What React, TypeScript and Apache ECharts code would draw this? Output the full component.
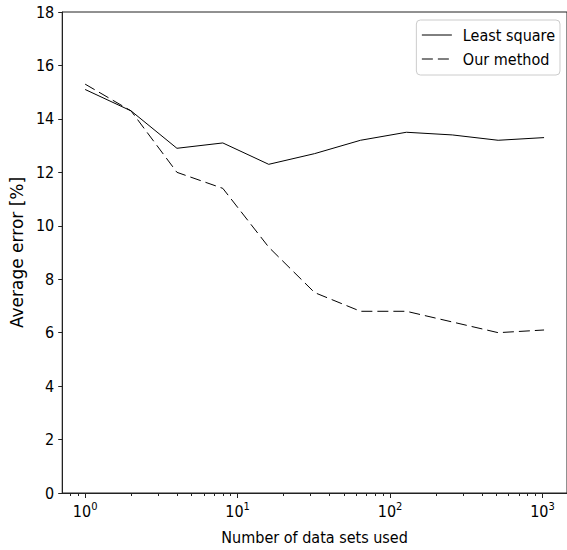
import React, { useEffect, useRef } from "react";
import * as echarts from "echarts";

const xValues = [1, 2, 4, 8, 16, 32, 64, 128, 256, 512, 1024];
const leastSquare = [15.1, 14.3, 12.9, 13.1, 12.3, 12.7, 13.2, 13.5, 13.4, 13.2, 13.3];
const ourMethod = [15.3, 14.3, 12.0, 11.4, 9.2, 7.5, 6.8, 6.8, 6.4, 6.0, 6.1];
const majorTicks = [1, 10, 100, 1000];
const minorTicks = [0.8, 0.9, 2, 3, 4, 5, 6, 7, 8, 9, 20, 30, 40, 50, 60, 70, 80, 90, 200, 300, 400, 500, 600, 700, 800, 900];

const COND = "'DejaVu Sans Condensed', 'DejaVu Sans', sans-serif";

export default function App() {
  const ref = useRef<HTMLDivElement>(null);
  useEffect(() => {
    if (!ref.current) return;
    const chart = echarts.init(ref.current, null, { renderer: "svg" });
    const xMin = Math.pow(10, -0.1505);
    const xMax = Math.pow(10, 3.1608);
    chart.setOption({
      animation: false,
      backgroundColor: "#fff",
      grid: {
        left: 61,
        top: 12,
        right: -1,
        bottom: 57,
        show: true,
        borderColor: "#222",
        borderWidth: 1,
      },
      legend: {
        orient: "vertical",
        right: 7,
        top: 20,
        padding: [7, 5, 8, 5],
        itemGap: 8,
        itemWidth: 30,
        itemHeight: 18,
        backgroundColor: "#fff",
        borderColor: "#ccc",
        borderWidth: 1,
        borderRadius: 4,
        itemStyle: { opacity: 0 },
        lineStyle: { width: 1 },
        textStyle: { fontFamily: COND, fontSize: 16, color: "#000", padding: [0, 0, 0, 6] },
        data: ["Least square", "Our method"],
      },
      xAxis: [
        {
          type: "log",
          logBase: 10,
          min: xMin,
          max: xMax,
          name: "Number of data sets used",
          nameLocation: "middle",
          nameGap: 36,
          nameTextStyle: { fontFamily: COND, fontSize: 16, color: "#000" },
          axisLine: { show: true, lineStyle: { color: "#222", width: 1 } },
          axisTick: { show: true, length: 5, customValues: majorTicks, lineStyle: { color: "#222" } },
          axisLabel: {
            customValues: majorTicks,
            margin: 8,
            formatter: (v: number) => `{b|10}{s|${Math.round(Math.log10(v))}}`,
            rich: {
              b: { fontFamily: COND, fontSize: 16, color: "#000" },
              s: { fontFamily: COND, fontSize: 11, color: "#000", padding: [0, 0, 10, 0] },
            },
          },
          splitLine: { show: false },
        },
        {
          type: "log",
          logBase: 10,
          min: xMin,
          max: xMax,
          position: "bottom",
          axisLine: { show: false },
          axisTick: { show: true, length: 3, customValues: minorTicks, lineStyle: { color: "#222" } },
          axisLabel: { show: false },
          splitLine: { show: false },
        },
      ],
      yAxis: {
        type: "value",
        min: 0,
        max: 18,
        interval: 2,
        name: "Average error [%]",
        nameLocation: "middle",
        nameGap: 30,
        nameTextStyle: { fontFamily: "'DejaVu Sans', sans-serif", fontSize: 17, color: "#000" },
        axisLine: { show: true, lineStyle: { color: "#222", width: 1 } },
        axisTick: { show: true, length: 4, lineStyle: { color: "#222" } },
        axisLabel: { fontFamily: COND, fontSize: 16, color: "#000", margin: 8 },
        splitLine: { show: false },
      },
      series: [
        {
          name: "Least square",
          type: "line",
          xAxisIndex: 0,
          symbol: "none",
          data: xValues.map((x, i) => [x, leastSquare[i]]),
          lineStyle: { color: "#000", width: 1 },
          itemStyle: { color: "#000" },
        },
        {
          name: "Our method",
          type: "line",
          xAxisIndex: 0,
          symbol: "none",
          data: xValues.map((x, i) => [x, ourMethod[i]]),
          lineStyle: { color: "#000", width: 1, type: [11, 5] },
          itemStyle: { color: "#000" },
        },
      ],
    });
    return () => chart.dispose();
  }, []);
  return <div ref={ref} style={{ width: 567, height: 550, position: "absolute", left: 0, top: 0 }} />;
}
